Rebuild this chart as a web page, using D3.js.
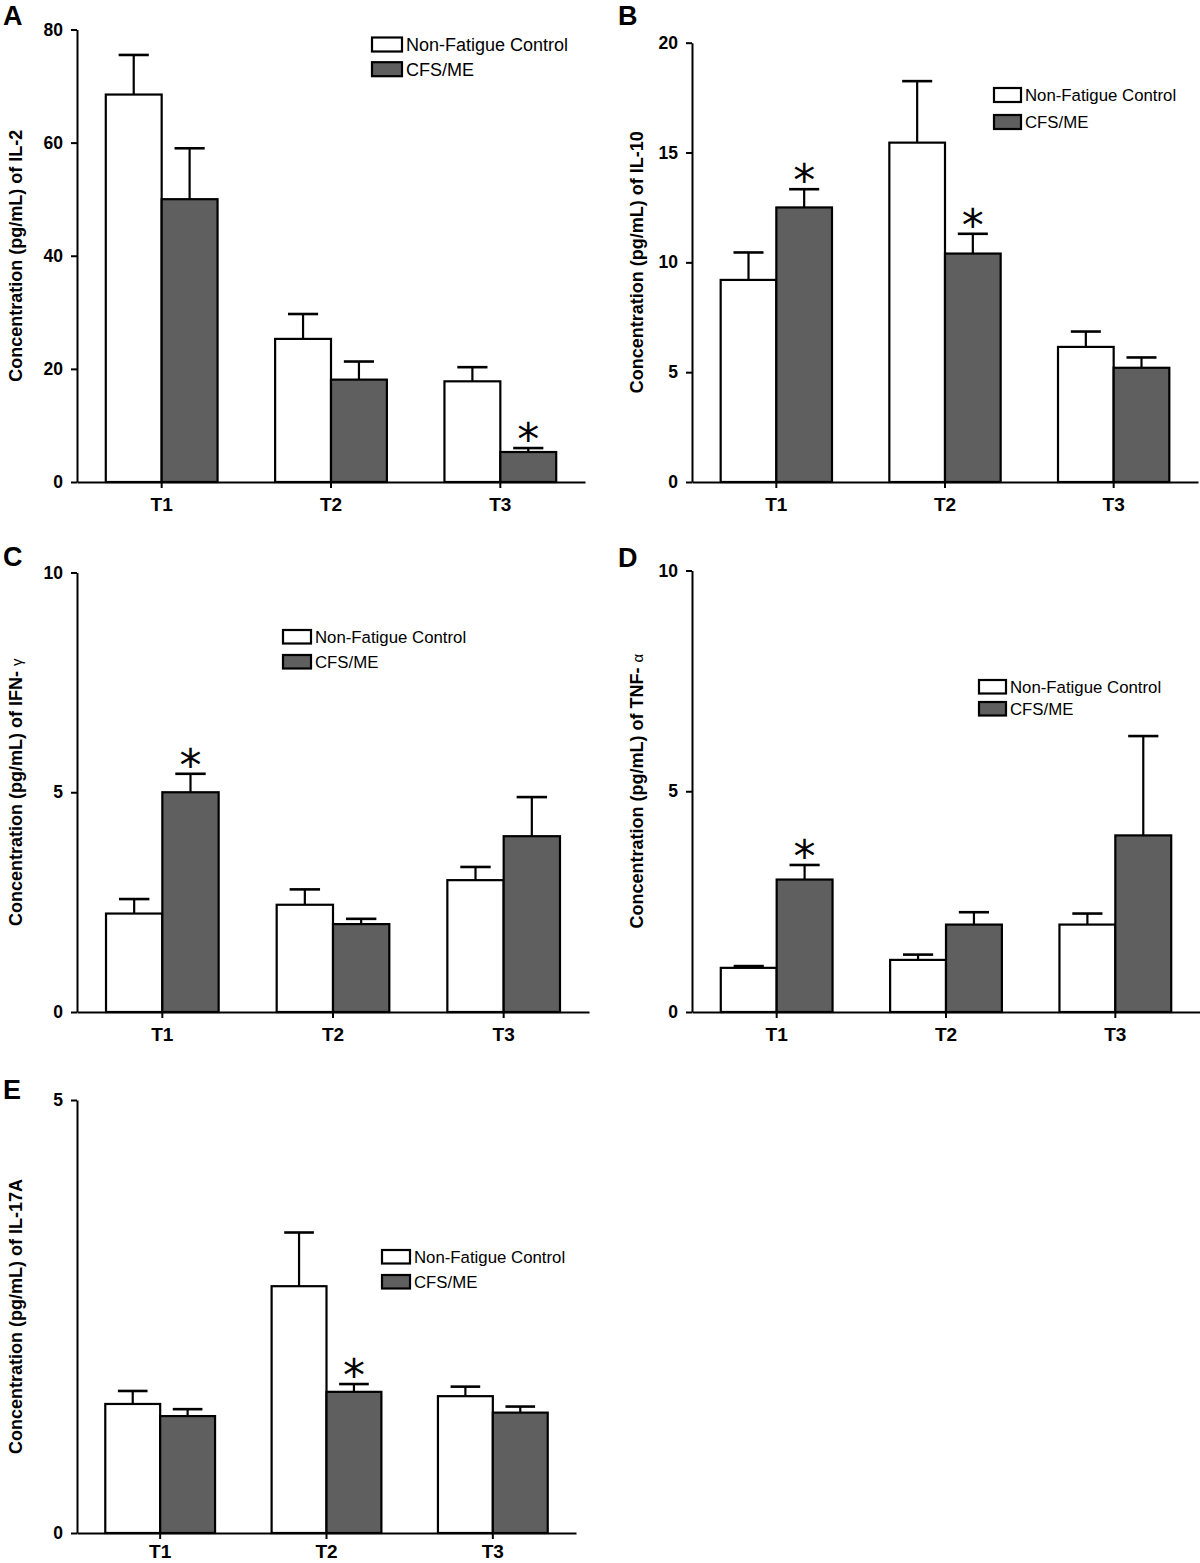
<!DOCTYPE html>
<html>
<head>
<meta charset="utf-8">
<script src="https://cdn.jsdelivr.net/npm/d3@7"></script>
<style>
  html, body { margin: 0; padding: 0; background: #fff; }
  svg { display: block; }
  text { font-family: "Liberation Sans", Arial, sans-serif; }
</style>
</head>
<body>
<div id="chart"></div>
<script>
// ---------------- DATA ----------------
const categories = ["T1", "T2", "T3"];
const seriesNames = ["Non-Fatigue Control", "CFS/ME"];

// IL-2 (panel A)
const il2Control = [68.5, 25.3, 17.8];
const il2ControlErr = [7.0, 4.4, 2.5];
const il2Cfs = [50.0, 18.1, 5.3];
const il2CfsErr = [9.0, 3.2, 0.7];
const il2Ticks = [0, 20, 40, 60, 80];
const il2Sig = ["T3"];

// IL-10 (panel B)
const il10Control = [9.2, 15.45, 6.15];
const il10ControlErr = [1.25, 2.8, 0.7];
const il10Cfs = [12.5, 10.4, 5.2];
const il10CfsErr = [0.83, 0.9, 0.47];
const il10Ticks = [0, 5, 10, 15, 20];
const il10Sig = ["T1", "T2"];

// IFN-gamma (panel C)
const ifnControl = [2.24, 2.44, 3.0];
const ifnControlErr = [0.33, 0.35, 0.3];
const ifnCfs = [5.0, 2.0, 4.0];
const ifnCfsErr = [0.42, 0.12, 0.89];
const ifnTicks = [0, 5, 10];
const ifnSig = ["T1"];

// TNF-alpha (panel D)
const tnfControl = [1.0, 1.18, 1.98];
const tnfControlErr = [0.04, 0.12, 0.25];
const tnfCfs = [3.0, 1.98, 4.0];
const tnfCfsErr = [0.33, 0.28, 2.25];
const tnfTicks = [0, 5, 10];
const tnfSig = ["T1"];

// IL-17A (panel E)
const il17Control = [1.49, 2.85, 1.58];
const il17ControlErr = [0.15, 0.62, 0.11];
const il17Cfs = [1.35, 1.63, 1.39];
const il17CfsErr = [0.08, 0.09, 0.07];
const il17Ticks = [0, 5];
const il17Sig = ["T2"];

// ---------------- LAYOUT ----------------
const W = 1200, H = 1563;
const FONT = '"Liberation Sans", Arial, sans-serif';
const DARK = "#5f5f5f";

const panels = [
  { letter: "A", lx: 3, ly: 25, x0: 77, x1: 585, yTop: 29.5, yBot: 482, titleX: 16, xPad: 10,
    titleMain: "Concentration (pg/mL) of IL-2", titleSym: null,
    control: il2Control, controlErr: il2ControlErr, cfs: il2Cfs, cfsErr: il2CfsErr, ticks: il2Ticks, sig: il2Sig,
    legend: { x: 372, y: 37.5, w: 30, h: 14, gap: 24.7, fs: 18 } },
  { letter: "B", lx: 618, ly: 25, x0: 692, x1: 1198, yTop: 42.7, yBot: 482, titleX: 637, xPad: 10,
    titleMain: "Concentration (pg/mL) of IL-10", titleSym: null,
    control: il10Control, controlErr: il10ControlErr, cfs: il10Cfs, cfsErr: il10CfsErr, ticks: il10Ticks, sig: il10Sig,
    legend: { x: 994, y: 88, w: 27, h: 14, gap: 27, fs: 16.8 } },
  { letter: "C", lx: 3, ly: 566, x0: 77, x1: 589, yTop: 572.5, yBot: 1012, titleX: 16, xPad: 10,
    titleMain: "Concentration (pg/mL) of IFN- ", titleSym: "γ",
    control: ifnControl, controlErr: ifnControlErr, cfs: ifnCfs, cfsErr: ifnCfsErr, ticks: ifnTicks, sig: ifnSig,
    legend: { x: 283, y: 630, w: 28, h: 13.5, gap: 25, fs: 16.8 } },
  { letter: "D", lx: 618, ly: 567, x0: 692, x1: 1200, yTop: 570.5, yBot: 1012, titleX: 637, xPad: 10,
    titleMain: "Concentration (pg/mL) of TNF-  ", titleSym: "α",
    control: tnfControl, controlErr: tnfControlErr, cfs: tnfCfs, cfsErr: tnfCfsErr, ticks: tnfTicks, sig: tnfSig,
    legend: { x: 979, y: 680, w: 27, h: 13.5, gap: 22, fs: 16.8 } },
  { letter: "E", lx: 3, ly: 1099, x0: 77, x1: 576, yTop: 1100, yBot: 1533, titleX: 16, xPad: 6,
    titleMain: "Concentration (pg/mL) of IL-17A", titleSym: null,
    control: il17Control, controlErr: il17ControlErr, cfs: il17Cfs, cfsErr: il17CfsErr, ticks: il17Ticks, sig: il17Sig,
    legend: { x: 382, y: 1250, w: 28, h: 13.5, gap: 25, fs: 16.8 } }
];

const svg = d3.select("#chart").append("svg")
  .attr("width", W).attr("height", H)
  .attr("viewBox", `0 0 ${W} ${H}`);
svg.append("rect").attr("width", W).attr("height", H).attr("fill", "#fff");

panels.forEach(p => {
  const g = svg.append("g");
  const yMax = p.ticks[p.ticks.length - 1];
  const x = d3.scaleBand().domain(categories).range([p.x0, p.x1])
    .paddingInner(0.34).paddingOuter(0.17);
  const xs = d3.scaleBand().domain(seriesNames).range([0, x.bandwidth()]);
  const y = d3.scaleLinear().domain([0, yMax]).range([p.yBot, p.yTop]);

  const rows = categories.map((c, i) => ([
    { cat: c, s: seriesNames[0], v: p.control[i], e: p.controlErr[i], fill: "#fff" },
    { cat: c, s: seriesNames[1], v: p.cfs[i], e: p.cfsErr[i], fill: DARK }
  ])).flat();

  // error bars (drawn first, bars cover the lower half)
  const eb = g.append("g");
  rows.forEach(d => {
    const cx = x(d.cat) + xs(d.s) + xs.bandwidth() / 2;
    const half = xs.bandwidth() * 0.27;
    eb.append("line").attr("x1", cx).attr("x2", cx)
      .attr("y1", y(d.v)).attr("y2", y(d.v + d.e))
      .attr("stroke", "#000").attr("stroke-width", 2.2);
    eb.append("line").attr("x1", cx - half).attr("x2", cx + half)
      .attr("y1", y(d.v + d.e)).attr("y2", y(d.v + d.e))
      .attr("stroke", "#000").attr("stroke-width", 2.6);
  });

  // bars
  g.append("g").selectAll("rect").data(rows).join("rect")
    .attr("x", d => x(d.cat) + xs(d.s))
    .attr("width", xs.bandwidth())
    .attr("y", d => y(d.v))
    .attr("height", d => y(0) - y(d.v))
    .attr("fill", d => d.fill)
    .attr("stroke", "#000").attr("stroke-width", 2.2);

  // significance stars
  p.sig.forEach(c => {
    const i = categories.indexOf(c);
    const cx = x(c) + xs(seriesNames[1]) + xs.bandwidth() / 2;
    const cy = y(p.cfs[i] + p.cfsErr[i]) - 17;
    const t = g.append("text").text("*")
      .attr("x", cx).attr("y", cy)
      .attr("text-anchor", "middle")
      .style("font-family", '"DejaVu Sans", sans-serif')
      .style("font-size", "44px");
    const gb = t.node().getBBox();
    t.attr("y", cy + (cy - (gb.y + gb.height * 0.33)));
  });

  // y axis
  const yAxis = d3.axisLeft(y).tickValues(p.ticks).tickFormat(d3.format("d"))
    .tickSize(6).tickSizeOuter(0).tickPadding(8);
  const ya = g.append("g").attr("transform", `translate(${p.x0},0)`).call(yAxis);
  ya.select(".domain").attr("stroke", "#000").attr("stroke-width", 2);
  ya.selectAll(".tick line").attr("stroke", "#000").attr("stroke-width", 2);
  ya.selectAll(".tick text").style("font-family", FONT).style("font-size", "17.5px")
    .style("font-weight", "bold").attr("fill", "#000");

  // x axis
  const xAxis = d3.axisBottom(x).tickSize(6).tickSizeOuter(0).tickPadding(p.xPad);
  const xa = g.append("g").attr("transform", `translate(0,${p.yBot})`).call(xAxis);
  xa.select(".domain").attr("stroke", "#000").attr("stroke-width", 2);
  xa.selectAll(".tick line").attr("stroke", "#000").attr("stroke-width", 2);
  xa.selectAll(".tick text").style("font-family", FONT).style("font-size", "19px")
    .style("font-weight", "bold").attr("fill", "#000");

  // y title
  const cy = (p.yTop + p.yBot) / 2;
  const tt = g.append("text")
    .attr("transform", `translate(${p.titleX + 6},${cy}) rotate(-90)`)
    .attr("text-anchor", "middle")
    .style("font-family", FONT).style("font-size", "18px").style("font-weight", "bold");
  tt.append("tspan").text(p.titleMain);
  if (p.titleSym) {
    tt.append("tspan").text(p.titleSym).style("font-weight", "normal").style("font-size", "15px");
  }

  // panel letter
  g.append("text").attr("x", p.lx).attr("y", p.ly).text(p.letter)
    .style("font-family", FONT).style("font-size", "27px").style("font-weight", "bold");

  // legend
  const L = p.legend;
  const lg = g.append("g");
  seriesNames.forEach((s, k) => {
    const yy = L.y + k * L.gap;
    lg.append("rect").attr("x", L.x).attr("y", yy).attr("width", L.w).attr("height", L.h)
      .attr("fill", k === 0 ? "#fff" : DARK).attr("stroke", "#000").attr("stroke-width", 2.2);
    lg.append("text").attr("x", L.x + L.w + 4).attr("y", yy + L.h / 2)
      .attr("dy", "0.36em").text(s)
      .style("font-family", FONT).style("font-size", L.fs + "px");
  });
});
</script>
</body>
</html>
